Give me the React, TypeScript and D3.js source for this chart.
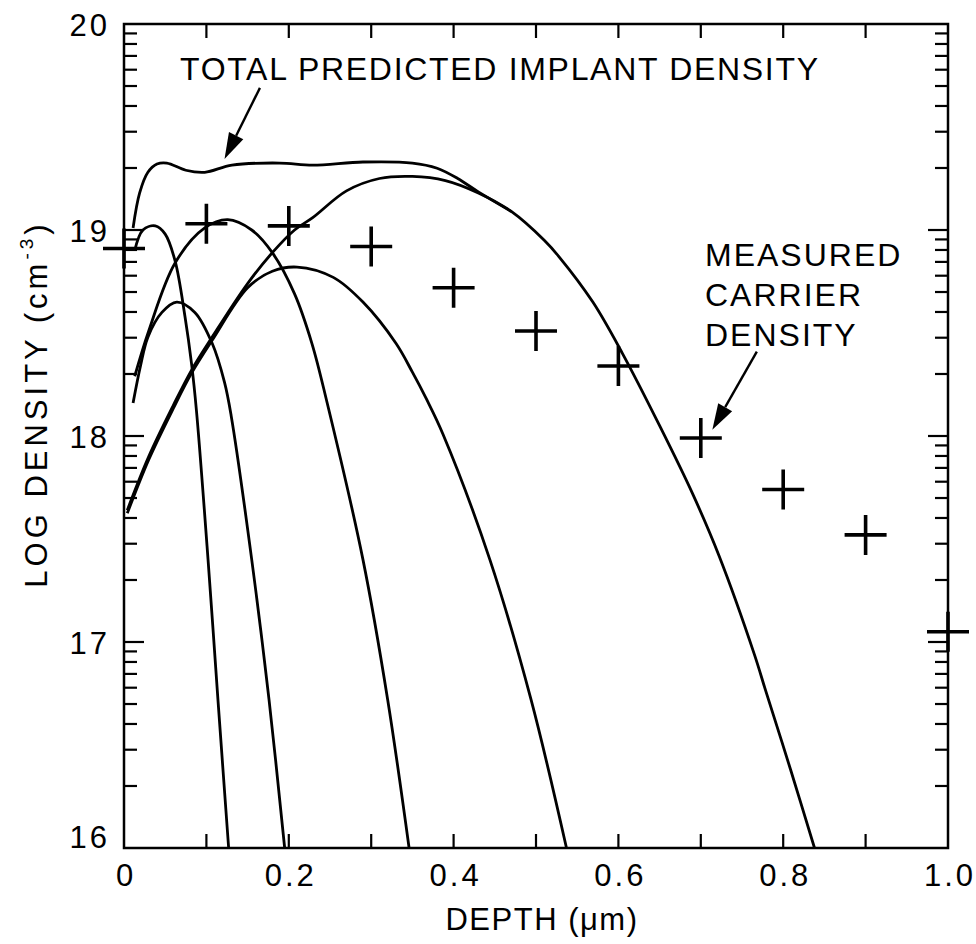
import { useEffect, useRef } from 'react';
import * as d3 from 'd3';

// axis tick values and labels
const depthLabelValues = [0, 0.2, 0.4, 0.6, 0.8, 1.0];
const depthLabels = ['0', '0.2', '0.4', '0.6', '0.8', '1.0'];
const depthTickValues = [0.1, 0.2, 0.3, 0.4, 0.5, 0.6, 0.7, 0.8, 0.9];
const decadeValues = [16, 17, 18, 19, 20];
const decadeLabels = ['16', '17', '18', '19', '20'];

// measured carrier density (crosses), log10 cm^-3
const measuredDepth = [0, 0.1, 0.2, 0.3, 0.4, 0.5, 0.6, 0.7, 0.8, 0.9, 1.0];
const measuredLogDensity = [18.91, 19.03, 19.02, 18.92, 18.72, 18.51, 18.34, 17.99, 17.74, 17.52, 17.05];

// individual implant profiles [depth um, log density]
const profileA = [
    [0.013, 18.9], [0.023, 19.0], [0.038, 19.02], [0.05, 18.98], [0.062, 18.85], [0.074, 18.58],
    [0.082, 18.35], [0.088, 18.12], [0.102, 17.4], [0.114, 16.72], [0.127, 16.0],
];
const profileB = [
    [0.011, 18.16], [0.02, 18.34], [0.029, 18.48], [0.046, 18.6], [0.064, 18.65], [0.086, 18.6],
    [0.107, 18.45], [0.122, 18.26], [0.13, 18.1], [0.155, 17.4], [0.176, 16.72], [0.195, 16.0],
];
const profileC = [
    [0.013, 18.29], [0.03, 18.51], [0.062, 18.84], [0.098, 19.01], [0.126, 19.05], [0.155, 19.0],
    [0.18, 18.89], [0.207, 18.69], [0.228, 18.45], [0.246, 18.17], [0.29, 17.4], [0.32, 16.72], [0.346, 16.0],
];
const profileD = [
    [0.004, 17.625], [0.03, 17.885], [0.06, 18.135], [0.082, 18.305], [0.107, 18.465], [0.15, 18.72],
    [0.18, 18.8], [0.21, 18.82], [0.254, 18.77], [0.29, 18.65], [0.33, 18.45], [0.35, 18.31],
    [0.367, 18.18], [0.387, 18.01], [0.444, 17.4], [0.494, 16.72], [0.537, 16.0],
];
const profileE = [
    [0.004, 17.64], [0.03, 17.9], [0.06, 18.15], [0.082, 18.32], [0.107, 18.48], [0.15, 18.74],
    [0.18, 18.89], [0.207, 19.0], [0.229, 19.06], [0.27, 19.19], [0.31, 19.25], [0.35, 19.26],
    [0.39, 19.24], [0.43, 19.18], [0.47, 19.09], [0.51, 18.95], [0.528, 18.87], [0.569, 18.65],
    [0.605, 18.4], [0.65, 18.05], [0.69, 17.72], [0.722, 17.42], [0.765, 16.94], [0.779, 16.76],
    [0.809, 16.38], [0.838, 16.0],
];
const totalPredicted = [
    [0.011, 19.01], [0.019, 19.18], [0.029, 19.28], [0.04, 19.32], [0.052, 19.325], [0.075, 19.29],
    [0.098, 19.28], [0.131, 19.315], [0.189, 19.325], [0.229, 19.315], [0.29, 19.33], [0.35, 19.325],
    [0.38, 19.3], [0.405, 19.25], [0.43, 19.185], [0.47, 19.09],
];
const profiles = [profileA, profileB, profileC, profileD, profileE, totalPredicted];

const FONT = "'Liberation Sans', Arial, Helvetica, sans-serif";

const App = () => {
    const svgRef = useRef(null);

    useEffect(() => {
        const svg = d3.select(svgRef.current);
        svg.selectAll('*').remove();

        const width = 976;
        const height = 944;
        const margin = { top: 24, right: 28, bottom: 96, left: 124 };

        const x = d3.scaleLinear().domain([0, 1]).range([margin.left, width - margin.right]);
        // density on a log axis, 1e16 .. 1e20
        const y = d3.scaleLog().domain([1e16, 1e20]).range([height - margin.bottom, margin.top]);
        const yv = (v) => y(Math.pow(10, v));

        const x0 = x(0);
        const x1 = x(1);
        const yTop = y(1e20);
        const yBot = y(1e16);

        // frame
        svg.append('rect')
            .attr('x', x0)
            .attr('y', yTop)
            .attr('width', x1 - x0)
            .attr('height', yBot - yTop)
            .attr('fill', 'none')
            .attr('stroke', '#000')
            .attr('stroke-width', 2.5);

        // depth ticks, bottom and top
        const ticks = svg.append('g').attr('stroke', '#000').attr('stroke-width', 2.2);
        depthTickValues.forEach((d) => {
            ticks.append('line').attr('x1', x(d)).attr('x2', x(d)).attr('y1', yBot).attr('y2', yBot - 14);
            ticks.append('line').attr('x1', x(d)).attr('x2', x(d)).attr('y1', yTop).attr('y2', yTop + 14);
        });

        // log ticks, left and right
        y.ticks().forEach((t) => {
            const isMajor = Math.abs(Math.log10(t) - Math.round(Math.log10(t))) < 1e-9;
            if (t === 1e16 || t === 1e20) return;
            const len = isMajor ? 20 : 13;
            ticks.append('line').attr('x1', x0).attr('x2', x0 + len).attr('y1', y(t)).attr('y2', y(t));
            ticks.append('line').attr('x1', x1).attr('x2', x1 - len).attr('y1', y(t)).attr('y2', y(t));
        });

        // tick labels
        depthLabelValues.forEach((d, i) => {
            svg.append('text')
                .attr('x', x(d) + 2)
                .attr('y', yBot + 38)
                .attr('text-anchor', 'middle')
                .attr('font-family', FONT)
                .attr('font-size', 31)
                .attr('letter-spacing', 3)
                .text(depthLabels[i]);
        });
        decadeValues.forEach((v, i) => {
            svg.append('text')
                .attr('x', x0 - 14)
                .attr('y', yv(v) + (v === 16 ? 0 : 12))
                .attr('text-anchor', 'end')
                .attr('font-family', FONT)
                .attr('font-size', 31)
                .attr('letter-spacing', 3)
                .text(decadeLabels[i]);
        });

        // axis titles
        svg.append('text')
            .attr('x', 542)
            .attr('y', 930)
            .attr('text-anchor', 'middle')
            .attr('font-family', FONT)
            .attr('font-size', 31)
            .attr('letter-spacing', 1.5)
            .text('DEPTH (\u03bcm)');

        const yTitle = svg.append('text')
            .attr('transform', 'translate(47,404) rotate(-90)')
            .attr('text-anchor', 'middle')
            .attr('font-family', FONT)
            .attr('font-size', 31)
            .attr('letter-spacing', 4);
        yTitle.append('tspan').text('LOG DENSITY (cm');
        yTitle.append('tspan').attr('font-size', 19).attr('dy', -14).text('-3');
        yTitle.append('tspan').attr('dy', 14).text(')');

        // implant profiles
        const line = d3
            .line()
            .x((d) => x(d[0]))
            .y((d) => yv(d[1]))
            .curve(d3.curveCatmullRom.alpha(0.5));

        profiles.forEach((p) => {
            svg.append('path')
                .datum(p)
                .attr('fill', 'none')
                .attr('stroke', '#000')
                .attr('stroke-width', 2.8)
                .attr('stroke-linejoin', 'round')
                .attr('d', line);
        });

        // measured points as crosses
        svg.append('g')
            .selectAll('path')
            .data(measuredDepth)
            .enter()
            .append('path')
            .attr('d', (d, i) => {
                const cx = x(d);
                const cy = yv(measuredLogDensity[i]);
                return `M${cx - 21},${cy}H${cx + 21}M${cx},${cy - 20}V${cy + 20}`;
            })
            .attr('stroke', '#000')
            .attr('stroke-width', 3.6)
            .attr('fill', 'none');

        // annotations with arrows
        const arrow = (from, to) => {
            const fx = x(from[0]);
            const fy = yv(from[1]);
            const tx = x(to[0]);
            const ty = yv(to[1]);
            const ang = Math.atan2(ty - fy, tx - fx);
            const headLen = 26;
            const halfW = 8;
            const bx = tx - headLen * Math.cos(ang);
            const by = ty - headLen * Math.sin(ang);
            svg.append('line')
                .attr('x1', fx)
                .attr('y1', fy)
                .attr('x2', bx)
                .attr('y2', by)
                .attr('stroke', '#000')
                .attr('stroke-width', 2.4);
            svg.append('path')
                .attr(
                    'd',
                    `M${tx},${ty}L${bx + halfW * Math.sin(ang)},${by - halfW * Math.cos(ang)}L${bx - halfW * Math.sin(ang)},${by + halfW * Math.cos(ang)}Z`,
                )
                .attr('fill', '#000');
        };

        svg.append('text')
            .attr('x', 180)
            .attr('y', 80)
            .attr('font-family', FONT)
            .attr('font-size', 32)
            .attr('textLength', 638)
            .attr('lengthAdjust', 'spacing')
            .text('TOTAL PREDICTED IMPLANT DENSITY');
        arrow([0.165, 19.69], [0.122, 19.345]);

        ['MEASURED', 'CARRIER', 'DENSITY'].forEach((s, i) => {
            svg.append('text')
                .attr('x', 705)
                .attr('y', 266 + i * 40)
                .attr('font-family', FONT)
                .attr('font-size', 32)
                .attr('letter-spacing', 2)
                .text(s);
        });
        arrow([0.768, 18.41], [0.714, 18.03]);
    }, []);

    return (
        <svg
            ref={svgRef}
            width={976}
            height={944}
            style={{ position: 'absolute', left: 0, top: 0, background: '#fff' }}
        ></svg>
    );
};

export default App;
